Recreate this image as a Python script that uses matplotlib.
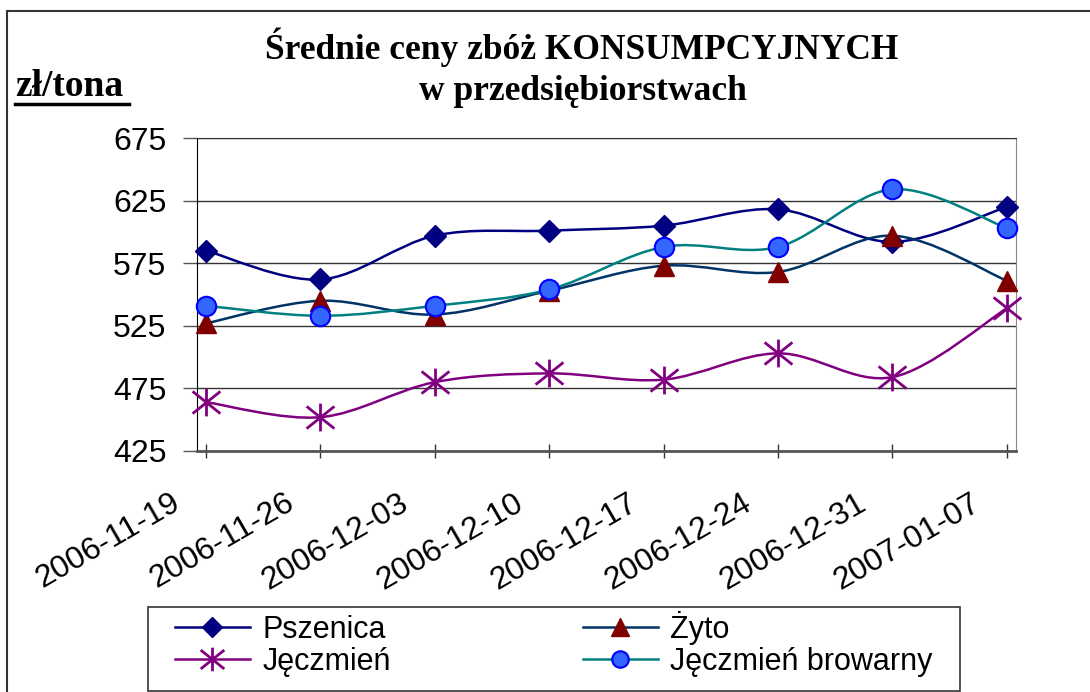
import matplotlib
matplotlib.use("Agg")
import matplotlib.pyplot as plt
import numpy as np
from matplotlib.path import Path
from matplotlib.patches import PathPatch, Rectangle
from matplotlib.lines import Line2D
from matplotlib.transforms import ScaledTranslation

# dane
daty = ['2006-11-19', '2006-11-26', '2006-12-03', '2006-12-10',
        '2006-12-17', '2006-12-24', '2006-12-31', '2007-01-07']
pszenica = [585, 562, 597, 601, 605, 618, 592, 620]
zyto = [527, 545, 534, 553, 573, 568, 597, 561]
jeczmien = [464, 452, 480, 487, 482, 503, 484, 539]
browarny = [541, 533, 541, 554, 588, 588, 634, 603]
nazwy = ['Pszenica', 'Żyto', 'Jęczmień', 'Jęczmień browarny']

W, H = 1090, 692
fig = plt.figure(figsize=(W / 100, H / 100), dpi=100)
ax = fig.add_axes([197 / W, 1 - 451 / H, (1016 - 197) / W, (451 - 138) / H])

# gwiazdka jak w Excelu
gw = Path([(0, -1), (0, 1), (-1, -0.8), (1, 0.8), (-1, 0.8), (1, -0.8)],
          [Path.MOVETO, Path.LINETO, Path.MOVETO, Path.LINETO, Path.MOVETO, Path.LINETO])

style = [
    dict(color='#000080', marker='D', ms=11.5, mfc='#000080', mec='#000080'),
    dict(color='#003366', marker='^', ms=15, mfc='#800000', mec='#800000'),
    dict(color='#800080', marker=gw, ms=20, mfc='none', mec='#800080', mew=2),
    dict(color='#008080', marker='o', ms=14, mfc='#3366FF', mec='#0000FF', mew=1.5),
]

def smooth_path(x, y):
    # krzywe Beziera (jak wygladzona linia w Excelu)
    x = np.asarray(x, float); y = np.asarray(y, float)
    verts = [(x[0], y[0])]
    codes = [Path.MOVETO]
    n = len(x)
    for i in range(n - 1):
        i0 = max(i - 1, 0); i3 = min(i + 2, n - 1)
        c1 = (x[i] + (x[i + 1] - x[i0]) / 6, y[i] + (y[i + 1] - y[i0]) / 6)
        c2 = (x[i + 1] - (x[i3] - x[i]) / 6, y[i + 1] - (y[i3] - y[i]) / 6)
        verts += [c1, c2, (x[i + 1], y[i + 1])]
        codes += [Path.CURVE4] * 3
    return Path(verts, codes)

x = np.arange(len(daty))
handles = []
for vals, st, nm in zip([pszenica, zyto, jeczmien, browarny], style, nazwy):
    ax.add_patch(PathPatch(smooth_path(x, vals), fill=False, ec=st['color'], lw=1.8, zorder=3))
    ax.plot(x, vals, ls='none', marker=st['marker'], ms=st['ms'], mfc=st['mfc'],
            mec=st['mec'], mew=st.get('mew', 1), zorder=4, clip_on=False)
    handles.append(Line2D([], [], color=st['color'], lw=1.8, marker=st['marker'],
                          ms=st['ms'] * 0.85, mfc=st['mfc'], mec=st['mec'], mew=st.get('mew', 1)))

ax.set_xlim(-0.079, 7.08)
ax.set_ylim(425, 675)
ax.set_yticks([425, 475, 525, 575, 625, 675])
ax.set_xticks(x)
ax.set_xticklabels([])
ax.grid(axis='y', color='#333333', lw=1)
ax.set_axisbelow(True)
for lab in ax.get_yticklabels():
    lab.set_family('Liberation Sans')
    lab.set_fontsize(23)
# etykiety dat przesuniete w lewo jak w oryginale
off = ax.get_xaxis_transform() + ScaledTranslation(-0.36, -0.37, fig.dpi_scale_trans)
for xi, d in zip(x, daty):
    ax.text(xi, 0, d, transform=off, rotation=30, ha='right', va='top',
            rotation_mode='anchor', fontsize=23, family='Liberation Sans')
ax.tick_params(axis='y', length=10, width=1, color='#555555', pad=12)
ax.tick_params(axis='x', length=10, width=1, direction='inout', color='#333333')
ax.spines['left'].set_color('black')
ax.spines['top'].set_color('#333333')
ax.spines['right'].set_color('#888888')
ax.spines['bottom'].set_color('#555555')
ax.spines['bottom'].set_linewidth(2)

# tytul
serif = ['Liberation Serif', 'DejaVu Serif']
fig.text(582 / W, 1 - 59 / H, 'Średnie ceny zbóż KONSUMPCYJNYCH', ha='center', va='baseline',
         fontsize=25.5, fontweight='bold', family=serif)
fig.text(583 / W, 1 - 100 / H, 'w przedsiębiorstwach', ha='center', va='baseline',
         fontsize=25.5, fontweight='bold', family=serif)
fig.text(15 / W, 1 - 96 / H, 'zł/tona', ha='left', va='baseline',
         fontsize=27, fontweight='bold', family=serif)
fig.add_artist(Line2D([15 / W, 129 / W], [1 - 104 / H, 1 - 104 / H], color='black', lw=2.5))

# ramka wykresu
fig.add_artist(Rectangle((7 / W, -0.1), 1.2, 1 - 11 / H + 0.1, fill=False,
                         ec='#333333', lw=1.5, transform=fig.transFigure))

# legenda: kolejnosc wierszami jak w Excelu, ramka osobno
fig.add_artist(Rectangle((148 / W, 1 - 691 / H), (960 - 148) / W, (691 - 607) / H, fill=False,
                         ec='#333333', lw=1.2, transform=fig.transFigure))
leg = fig.legend([handles[0], handles[2], handles[1], handles[3]],
                 [nazwy[0], nazwy[2], nazwy[1], nazwy[3]],
                 loc='upper left', bbox_to_anchor=(175 / W, 1 - 611 / H),
                 ncol=2, prop={'family': 'Liberation Sans', 'size': 22}, frameon=False,
                 handlelength=2.45, handletextpad=0.4,
                 columnspacing=6.3, labelspacing=0.05, borderpad=0, borderaxespad=0)

fig.savefig('out.png', dpi=100)
